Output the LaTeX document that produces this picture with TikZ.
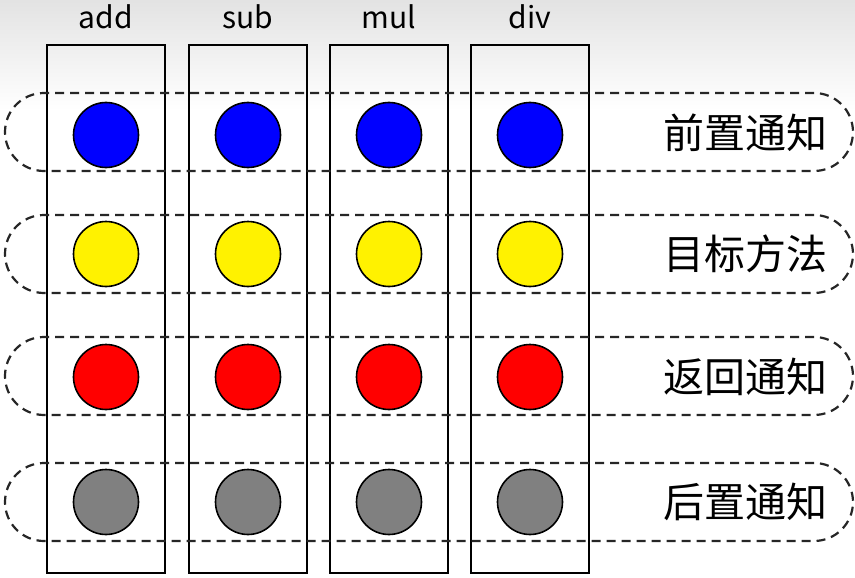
\documentclass[tikz,border=0pt]{standalone}
\usepackage{fontspec}
\newfontfamily\cjk{Noto Sans CJK SC}
\begin{document}
\begin{tikzpicture}[x=1pt,y=-1pt,
  colbox/.style={draw=black, line width=2pt, minimum width=118pt, minimum height=528pt, inner sep=0pt, outer sep=0pt},
  rowbox/.style={draw=black!85, line width=2.2pt, dash pattern=on 9pt off 6pt, rounded corners=39pt, minimum width=848pt, minimum height=78pt, inner sep=0pt, outer sep=0pt},
  dot/.style={circle, draw=black, line width=1.6pt, minimum size=65pt, inner sep=0pt},
  collabel/.style={font=\cjk\fontsize{30}{30}\selectfont, anchor=base, inner sep=0pt, text=black},
  rowlabel/.style={font=\cjk\fontsize{41}{41}\selectfont, anchor=east, inner sep=0pt, text=black}
]
\useasboundingbox (0,0) rectangle (855,578);
\shade[top color=black!11, bottom color=white] (0,0) rectangle (855,110);
\fill[white] (0,110) rectangle (855,578);
% columns
\node[colbox] (c1) at (106,309) {};
\node[colbox] (c2) at (248,309) {};
\node[colbox] (c3) at (389,309) {};
\node[colbox] (c4) at (530,309) {};
% column labels
\node[collabel] (l1) at (106,29) {add};
\node[collabel] (l2) at (248,29) {sub};
\node[collabel] (l3) at (389,29) {mul};
\node[collabel] (l4) at (530,29) {div};
% rows
\node[rowbox] (r1) at (429,132) {};
\node[rowbox] (r2) at (429,254) {};
\node[rowbox] (r3) at (429,376) {};
\node[rowbox] (r4) at (429,502) {};
% dots
\foreach \x/\n in {106/1,248/2,389/3,530/4}{
  \node[dot, fill=blue] (b\n) at (\x,135) {};
  \node[dot, fill=yellow] (y\n) at (\x,254) {};
  \node[dot, fill=red] (d\n) at (\x,377) {};
  \node[dot, fill=black!50] (g\n) at (\x,502) {};
}
% row labels
\node[rowlabel] (t1) at (828,133) {前置通知};
\node[rowlabel] (t2) at (828,254) {目标方法};
\node[rowlabel] (t3) at (828,377) {返回通知};
\node[rowlabel] (t4) at (828,502) {后置通知};
\end{tikzpicture}
\end{document}
